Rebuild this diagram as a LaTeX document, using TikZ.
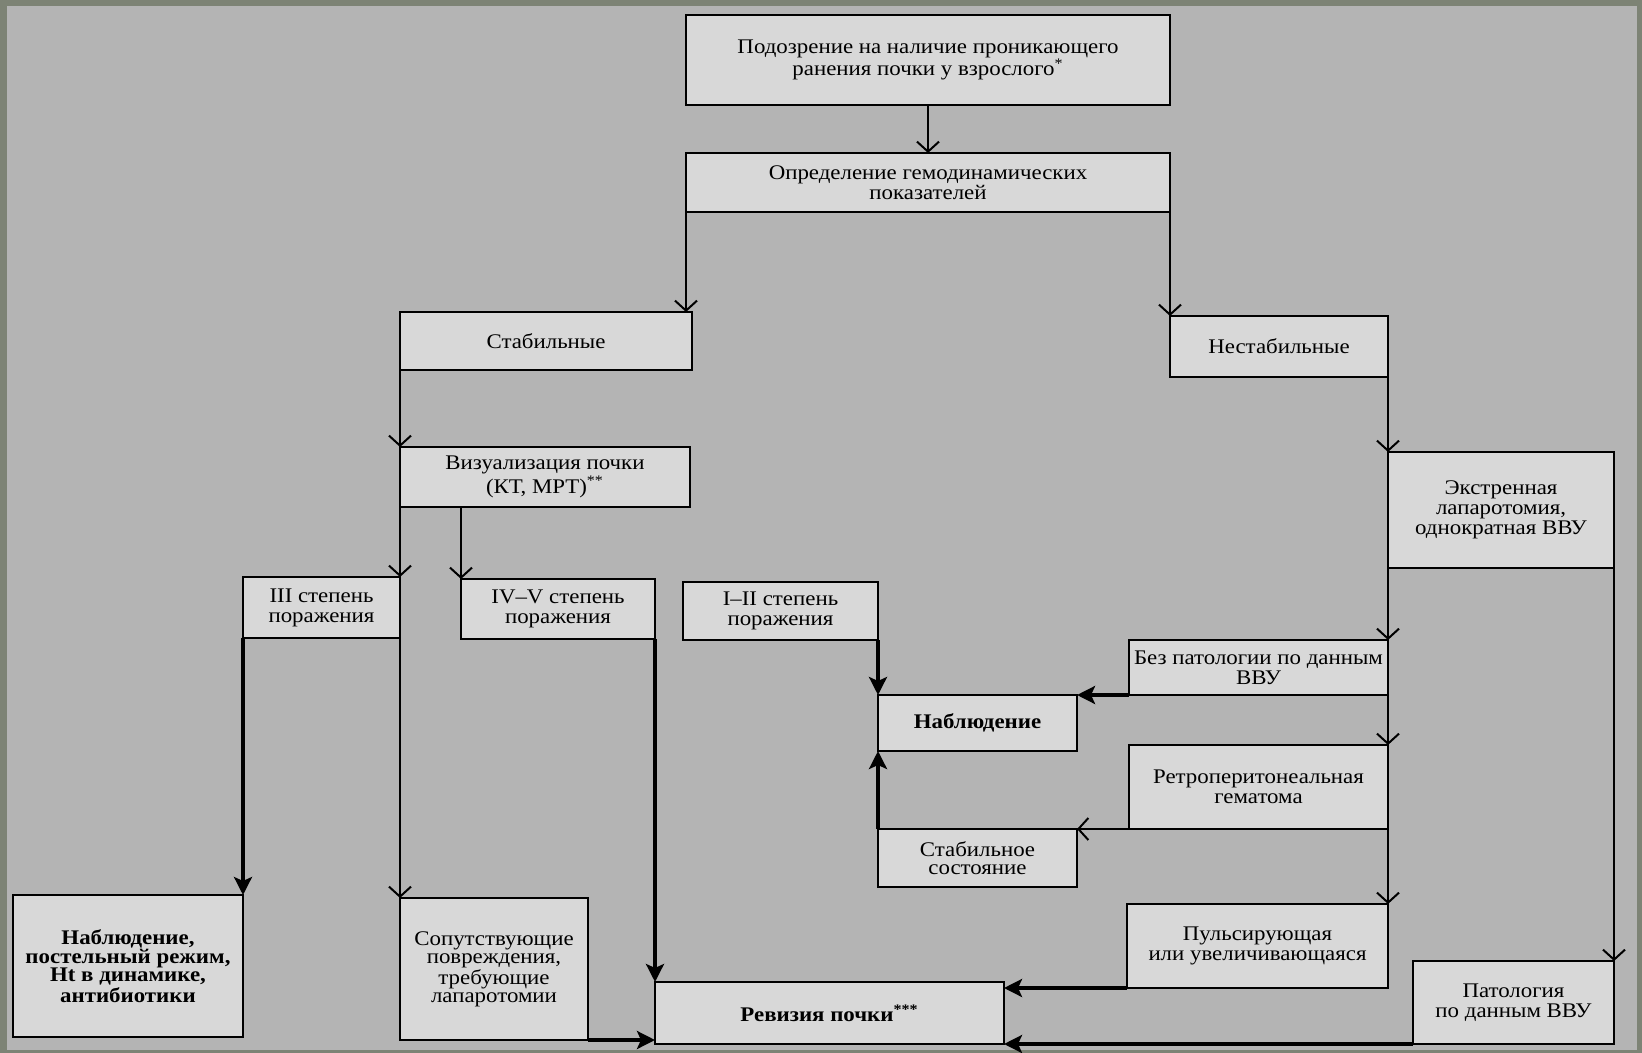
\documentclass[tikz,border=0pt]{standalone}
\usepackage{fontspec}
\setmainfont{Liberation Serif}[FakeStretch=1.1]
\usetikzlibrary{arrows.meta}
\definecolor{scanframe}{RGB}{125,131,117}
\definecolor{scanpaper}{RGB}{180,180,180}
\definecolor{boxfill}{RGB}{216,216,216}
\tikzset{
  blk/.style={draw, line width=1pt, fill=boxfill, inner sep=0pt, outer sep=0pt, anchor=north west,
    align=center, font=\fontsize{10.4}{10}\selectfont},
  boldblk/.style={blk, font=\fontsize{10.4}{9.2}\selectfont\bfseries},
  thinarr/.style={line width=1pt, -{Straight Barb[length=5pt,width=11pt]}},
  thickarr/.style={line width=2.2pt, -{Stealth[length=9pt,width=9pt,inset=2pt]}},
}
\begin{document}
\begin{tikzpicture}[x=0.5pt,y=-0.5pt]
	\fill[scanframe] (0,0) rectangle (1642,1053);
	\fill[scanpaper] (7,6) rectangle (1637,1050);
	\useasboundingbox (0,0) rectangle (1642,1053);

	\node[blk, minimum width=242pt, minimum height=45pt, font=\fontsize{10.4}{11.3}\selectfont] (susp) at (686,15)
		{Подозрение на наличие проникающего\\ранения почки у взрослого\textsuperscript{*}};
	\node[blk, minimum width=242pt, minimum height=29.5pt] (hemo) at (686,153)
		{Определение гемодинамических\\показателей};
	\node[blk, minimum width=146pt, minimum height=29pt] (stab) at (400,312) {Стабильные};
	\node[blk, minimum width=109pt, minimum height=30.5pt] (unst) at (1170,316) {Нестабильные};
	\node[blk, minimum width=145pt, minimum height=30pt] (imag) at (400,447)
		{Визуализация почки\\(КТ, МРТ)\textsuperscript{**}};
	\node[blk, minimum width=113pt, minimum height=58pt] (lapar) at (1388,452)
		{Экстренная\\лапаротомия,\\однократная ВВУ};
	\node[blk, minimum width=78.5pt, minimum height=30.5pt] (grIII) at (243,577)
		{III степень\\поражения};
	\node[blk, minimum width=97pt, minimum height=30pt] (grIV) at (461,579)
		{IV–V степень\\поражения};
	\node[blk, minimum width=97.5pt, minimum height=29pt] (grI) at (683,582)
		{I–II степень\\поражения};
	\node[boldblk, minimum width=99.5pt, minimum height=28pt] (obs) at (878,695) {Наблюдение};
	\node[blk, minimum width=129.5pt, minimum height=27.5pt] (nopat) at (1129,640)
		{Без патологии по данным\\ВВУ};
	\node[blk, minimum width=129.5pt, minimum height=42pt] (retro) at (1129,745)
		{Ретроперитонеальная\\гематома};
	\node[blk, minimum width=99.5pt, minimum height=29pt, font=\fontsize{10.4}{9}\selectfont] (stbl) at (878,829)
		{Стабильное\\состояние};
	\node[blk, minimum width=130.5pt, minimum height=42pt] (puls) at (1127,904)
		{Пульсирующая\\или увеличивающаяся};
	\node[blk, minimum width=100.5pt, minimum height=41.5pt] (patol) at (1413,961)
		{Патология\\по данным ВВУ};
	\node[boldblk, minimum width=174.5pt, minimum height=31pt] (rev) at (655,982)
		{Ревизия почки\textsuperscript{***}};
	\node[boldblk, minimum width=115pt, minimum height=71pt] (bed) at (13,895)
		{Наблюдение,\\постельный режим,\\Ht в динамике,\\антибиотики};
	\node[blk, minimum width=94pt, minimum height=71pt, font=\fontsize{10.4}{9}\selectfont] (assoc) at (400,898)
		{Сопутствующие\\повреждения,\\требующие\\лапаротомии};

	\draw[thinarr] (susp) -- (hemo);
	\draw[thinarr] (hemo.south west) -- (hemo.south west |- stab.north);
	\draw[thinarr] (hemo.south east) -- (unst.north west);
	\draw[thinarr] (unst.south east) -- (lapar.north west);
	\draw[thinarr] (stab.south west) -- (imag.north west);
	\draw[thinarr] (imag.south west) -- (grIII.north east);
	\draw[thinarr] (grIII.south east) -- (assoc.north west);
	\draw[thinarr] (grIV.north west |- imag.south) -- (grIV.north west);
	\draw[thickarr] (grIII.south west) -- (bed.north east);
	\draw[thickarr] (grIV.south east) -- (rev.north west);
	\draw[thickarr] (assoc.south east) -- (rev.west |- assoc.south east);
	\draw[thickarr] (grI.south east) -- (obs.north west);
	\draw[thickarr] (stbl.north west) -- (obs.south west);
	\draw[thinarr] (lapar.south west) -- (nopat.north east);
	\draw[thinarr] (nopat.south east) -- (retro.north east);
	\draw[thinarr] (retro.south east) -- (puls.north east);
	\draw[thickarr] (nopat.south west) -- (obs.north east);
	\draw[thinarr] (retro.south west) -- (stbl.north east);
	\draw[thickarr] (puls.south west) -- (rev.east |- puls.south west);
	\draw[thinarr] (lapar.south east) -- (patol.north east);
	\draw[thickarr] (patol.south west) -- (rev.east |- patol.south west);
\end{tikzpicture}
\end{document}
